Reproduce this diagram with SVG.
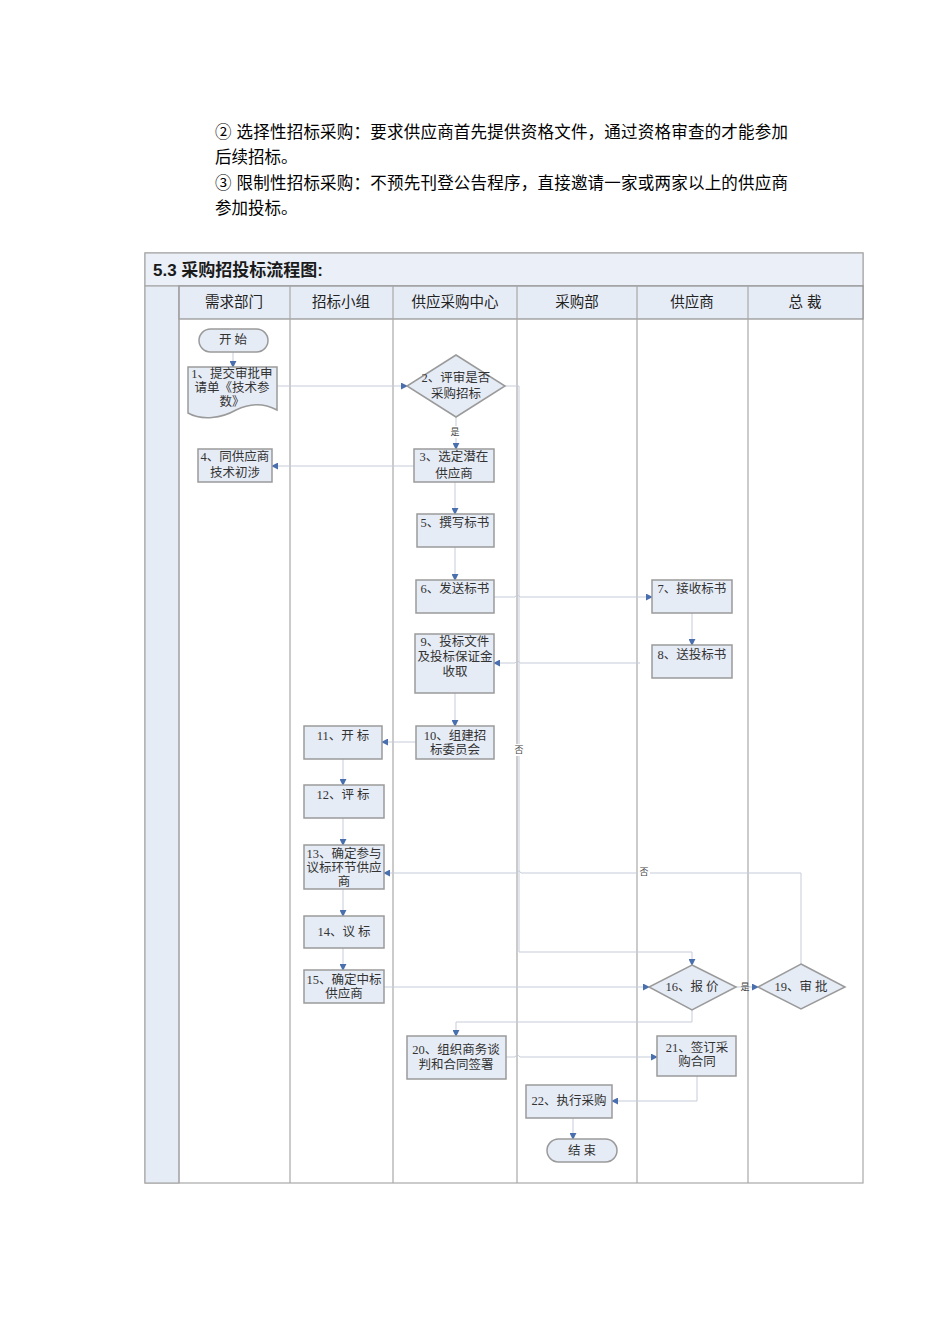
<svg xmlns="http://www.w3.org/2000/svg" width="950" height="1344" viewBox="0 0 950 1344">
<defs>
<marker id="arr" viewBox="0 0 8 8" refX="7" refY="4" markerWidth="7" markerHeight="7" markerUnits="userSpaceOnUse" orient="auto">
<path d="M0,0 L8,4 L0,8 Z" fill="#4a6fae"/>
</marker>
<style>
.para{font-family:"Liberation Sans","Noto Sans CJK SC",sans-serif;font-size:16.5px;fill:#000;}
.title{font-family:"Liberation Sans","Noto Sans CJK SC",sans-serif;font-size:17px;font-weight:bold;fill:#1a1a1a;}
.hdr{font-family:"Liberation Sans","Noto Sans CJK SC",sans-serif;font-size:14.5px;fill:#222;text-anchor:middle;dominant-baseline:central;}
.t{font-family:"Liberation Serif","Noto Sans CJK SC",serif;font-size:12.5px;fill:#333;text-anchor:middle;dominant-baseline:central;}
.lbl{font-family:"Liberation Serif","Noto Sans CJK SC",serif;font-size:9px;fill:#444;text-anchor:middle;dominant-baseline:central;}
.box{fill:#e6ecf6;stroke:#9a9a9a;stroke-width:1.5;}
.lane{stroke:#a8a8a8;stroke-width:1.2;fill:none;}
.conn{fill:none;stroke:#c5cdd9;stroke-width:1;marker-end:url(#arr);}
</style>
</defs>
<rect width="950" height="1344" fill="#ffffff"/>

<g id="intro">
<text class="para" x="215" y="138" textLength="573" lengthAdjust="spacing">② 选择性招标采购：要求供应商首先提供资格文件，通过资格审查的才能参加</text>
<text class="para" x="215" y="163">后续招标。</text>
<text class="para" x="215" y="189" textLength="573" lengthAdjust="spacing">③ 限制性招标采购：不预先刊登公告程序，直接邀请一家或两家以上的供应商</text>
<text class="para" x="215" y="214">参加投标。</text>
</g>

<g id="table">
<rect x="145" y="253" width="718" height="930" fill="#ffffff" stroke="#a8a8a8" stroke-width="1.2"/>
<rect x="145" y="253" width="718" height="33" fill="#ebf0f8" stroke="#a8a8a8" stroke-width="1.2"/>
<rect x="145" y="286" width="34" height="897" fill="#e6ecf6" stroke="#a8a8a8" stroke-width="1.2"/>
<rect x="179" y="286" width="684" height="33" fill="#e6ecf6" stroke="#8f8f8f" stroke-width="1.2"/>
<line class="lane" x1="179" y1="286" x2="179" y2="1183"/>
<line class="lane" x1="290" y1="286" x2="290" y2="1183"/>
<line class="lane" x1="393" y1="286" x2="393" y2="1183"/>
<line class="lane" x1="517" y1="286" x2="517" y2="1183"/>
<line class="lane" x1="637" y1="286" x2="637" y2="1183" stroke="#c4c4c4" stroke-width="2"/>
<line class="lane" x1="748" y1="286" x2="748" y2="1183" stroke="#c4c4c4" stroke-width="2"/>
<text class="title" x="153" y="276">5.3 采购招投标流程图:</text>
<text class="hdr" x="234" y="302">需求部门</text>
<text class="hdr" x="341" y="302">招标小组</text>
<text class="hdr" x="455" y="302">供应采购中心</text>
<text class="hdr" x="577" y="302">采购部</text>
<text class="hdr" x="692" y="302">供应商</text>
<text class="hdr" x="805" y="302">总 裁</text>
</g>

<g id="connectors">
<path class="conn" d="M233,352 V367"/>
<path class="conn" d="M277,386 H407"/>
<path class="conn" d="M456,417 V449"/>
<path class="conn" d="M414,466 H272"/>
<path class="conn" d="M455,482 V514"/>
<path class="conn" d="M455,547 V580"/>
<path class="conn" d="M494,597 H515 q2,-4 5,0 H652"/>
<path class="conn" d="M692,613 V645"/>
<path class="conn" d="M640,663 H520 q-2,-4 -5,0 H494"/>
<path class="conn" d="M455,693 V726"/>
<path class="conn" d="M416,742 H382"/>
<path class="conn" d="M343,759 V785"/>
<path class="conn" d="M343,818 V845"/>
<path class="conn" d="M343,889 V916"/>
<path class="conn" d="M343,948 V970"/>
<path class="conn" d="M505,386 H519 V952 H692 V965"/>
<path class="conn" d="M384,987 H649"/>
<path class="conn" d="M736,987 H758"/>
<path class="conn" d="M801,964 V873 H521 q-2,-4 -5,0 H384"/>
<path class="conn" d="M692,1010 V1022 H456 V1036"/>
<path class="conn" d="M506,1057 H515 q2,-4 5,0 H657"/>
<path class="conn" d="M697,1076 V1101 H612"/>
<path class="conn" d="M573,1118 V1139"/>
<rect x="449" y="426" width="12" height="12" fill="#ffffff"/>
<text class="lbl" x="455" y="432">是</text>
<rect x="513" y="744" width="12" height="12" fill="#ffffff"/>
<text class="lbl" x="519" y="750">否</text>
<rect x="638" y="866" width="12" height="12" fill="#ffffff"/>
<text class="lbl" x="644" y="872">否</text>
<text class="lbl" x="745" y="987">是</text>
</g>

<g id="start">
<rect class="box" x="199" y="329" width="69" height="23" rx="11.5"/>
<text class="t" x="233" y="340">开 始</text>
</g>
<g id="n1">
<path class="box" d="M188,367 H277 V410 C262,402 248,404 236,410 C222,418 202,421 188,413 Z"/>
<text class="t" x="232" y="374">1、提交审批申</text>
<text class="t" x="232" y="388">请单《技术参</text>
<text class="t" x="232" y="402">数》</text>
</g>
<g id="n2">
<polygon class="box" points="456,355 505,386 456,417 407,386"/>
<text class="t" x="456" y="378">2、评审是否</text>
<text class="t" x="456" y="394">采购招标</text>
</g>
<g id="n3">
<rect class="box" x="414" y="449" width="80" height="33"/>
<text class="t" x="454" y="457">3、选定潜在</text>
<text class="t" x="454" y="474">供应商</text>
</g>
<g id="n4">
<rect class="box" x="198" y="449" width="74" height="33"/>
<text class="t" x="235" y="457">4、同供应商</text>
<text class="t" x="235" y="473">技术初涉</text>
</g>
<g id="n5">
<rect class="box" x="417" y="514" width="77" height="33"/>
<text class="t" x="455" y="523">5、撰写标书</text>
</g>
<g id="n6">
<rect class="box" x="416" y="580" width="78" height="33"/>
<text class="t" x="455" y="589">6、发送标书</text>
</g>
<g id="n7">
<rect class="box" x="652" y="580" width="80" height="33"/>
<text class="t" x="692" y="589">7、接收标书</text>
</g>
<g id="n8">
<rect class="box" x="652" y="645" width="80" height="33"/>
<text class="t" x="692" y="655">8、送投标书</text>
</g>
<g id="n9">
<rect class="box" x="415" y="634" width="79" height="59"/>
<text class="t" x="455" y="642">9、投标文件</text>
<text class="t" x="455" y="657">及投标保证金</text>
<text class="t" x="455" y="672">收取</text>
</g>
<g id="n10">
<rect class="box" x="416" y="726" width="78" height="33"/>
<text class="t" x="455" y="736">10、组建招</text>
<text class="t" x="455" y="750">标委员会</text>
</g>
<g id="n11">
<rect class="box" x="304" y="726" width="78" height="33"/>
<text class="t" x="343" y="736">11、开 标</text>
</g>
<g id="n12">
<rect class="box" x="304" y="785" width="80" height="33"/>
<text class="t" x="343" y="795">12、评 标</text>
</g>
<g id="n13">
<rect class="box" x="304" y="845" width="80" height="44"/>
<text class="t" x="344" y="854">13、确定参与</text>
<text class="t" x="344" y="868">议标环节供应</text>
<text class="t" x="344" y="882">商</text>
</g>
<g id="n14">
<rect class="box" x="304" y="916" width="80" height="32"/>
<text class="t" x="344" y="932">14、议 标</text>
</g>
<g id="n15">
<rect class="box" x="304" y="970" width="80" height="33"/>
<text class="t" x="344" y="980">15、确定中标</text>
<text class="t" x="344" y="994">供应商</text>
</g>
<g id="n16">
<polygon class="box" points="692,965 736,987 692,1010 649,987"/>
<text class="t" x="692" y="987">16、报 价</text>
</g>
<g id="n19">
<polygon class="box" points="801,964 845,987 801,1009 758,987"/>
<text class="t" x="801" y="987">19、审 批</text>
</g>
<g id="n20">
<rect class="box" x="407" y="1036" width="99" height="43"/>
<text class="t" x="456" y="1050">20、组织商务谈</text>
<text class="t" x="456" y="1065">判和合同签署</text>
</g>
<g id="n21">
<rect class="box" x="657" y="1036" width="79" height="40"/>
<text class="t" x="697" y="1048">21、签订采</text>
<text class="t" x="697" y="1062">购合同</text>
</g>
<g id="n22">
<rect class="box" x="526" y="1085" width="86" height="33"/>
<text class="t" x="569" y="1101">22、执行采购</text>
</g>
<g id="end">
<rect class="box" x="547" y="1139" width="70" height="23" rx="11.5"/>
<text class="t" x="582" y="1151">结 束</text>
</g>
</svg>
